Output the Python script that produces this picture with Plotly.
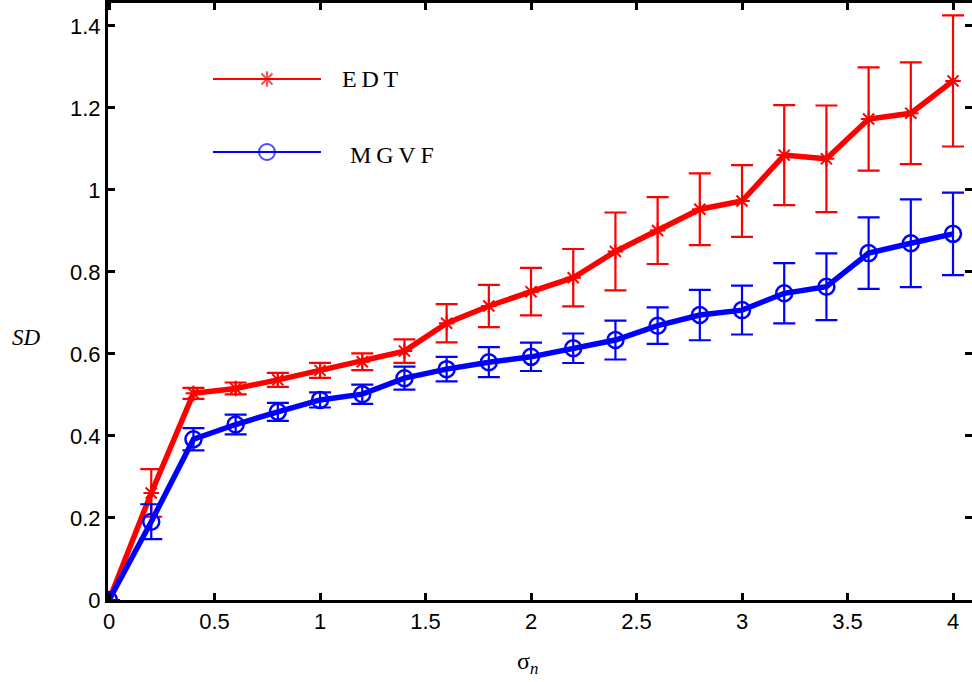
import plotly.graph_objects as go

# Noise level sigma_n
sigma_n = [0.0, 0.2, 0.4, 0.6, 0.8, 1.0, 1.2, 1.4, 1.6, 1.8, 2.0,
           2.2, 2.4, 2.6, 2.8, 3.0, 3.2, 3.4, 3.6, 3.8, 4.0]

# Mean SD and its spread for each method
edt_sd = [0.0, 0.261, 0.504, 0.516, 0.537, 0.560, 0.581, 0.607, 0.675, 0.717, 0.752,
          0.786, 0.850, 0.901, 0.953, 0.973, 1.085, 1.076, 1.173, 1.187, 1.266]
edt_err = [0.0, 0.058, 0.0135, 0.0145, 0.017, 0.0185, 0.0205, 0.0285, 0.0465, 0.0515, 0.058,
           0.070, 0.095, 0.0815, 0.0875, 0.0875, 0.122, 0.130, 0.126, 0.124, 0.160]

mgvf_sd = [0.0, 0.191, 0.392, 0.428, 0.459, 0.488, 0.502, 0.541, 0.563, 0.580, 0.593,
           0.614, 0.634, 0.669, 0.695, 0.707, 0.748, 0.764, 0.846, 0.870, 0.893]
mgvf_err = [0.0, 0.0425, 0.027, 0.024, 0.022, 0.0185, 0.0235, 0.028, 0.030, 0.0365, 0.0345,
            0.036, 0.0475, 0.0445, 0.0615, 0.0595, 0.0735, 0.0815, 0.087, 0.107, 0.1005]

x_ticks = [0, 0.5, 1, 1.5, 2, 2.5, 3, 3.5, 4]
x_tick_text = ["0", "0.5", "1", "1.5", "2", "2.5", "3", "3.5", "4"]
y_ticks = [0, 0.2, 0.4, 0.6, 0.8, 1.0, 1.2, 1.4]
y_tick_text = ["0", "0.2", "0.4", "0.6", "0.8", "1", "1.2", "1.4"]

RED = "#FF0000"
BLUE = "#0000FF"
X_RANGE = [-0.005, 4.09]
Y_RANGE = [0, 1.456]

fig = go.Figure()

fig.add_trace(go.Scatter(
    x=sigma_n, y=edt_sd, mode="lines+markers", name="EDT",
    line=dict(color=RED, width=5.5),
    marker=dict(symbol="asterisk-open", size=13, color=RED, line=dict(color=RED, width=2)),
    error_y=dict(type="data", array=edt_err, visible=True, color=RED, thickness=2.2, width=11),
    showlegend=False,
))
fig.add_trace(go.Scatter(
    x=sigma_n, y=mgvf_sd, mode="lines+markers", name="MGVF",
    line=dict(color=BLUE, width=5.5),
    marker=dict(symbol="circle-open", size=16, color=BLUE, line=dict(color=BLUE, width=2.5)),
    error_y=dict(type="data", array=mgvf_err, visible=True, color=BLUE, thickness=2.2, width=11),
    showlegend=False,
))

# Legend glyphs drawn on their own small axis
legend_y = {"EDT": 0.8727, "MGVF": 0.7504}
fig.add_trace(go.Scatter(
    x=[0, 0.5, 1], y=[legend_y["EDT"]] * 3, xaxis="x3", yaxis="y3",
    mode="lines+markers", line=dict(color=RED, width=2),
    marker=dict(symbol="asterisk-open", size=[0, 13, 0], color=RED, line=dict(color=RED, width=2)),
    showlegend=False, hoverinfo="skip",
))
fig.add_trace(go.Scatter(
    x=[0, 0.5, 1], y=[legend_y["MGVF"]] * 3, xaxis="x3", yaxis="y3",
    mode="lines+markers", line=dict(color=BLUE, width=2),
    marker=dict(symbol="circle-open", size=[0, 16, 0], color=BLUE, line=dict(color=BLUE, width=2)),
    showlegend=False, hoverinfo="skip",
))

tick_font = dict(family="Liberation Sans, Arial, sans-serif", size=22, color="black")
serif = "Liberation Serif, Times New Roman, serif"

fig.update_layout(
    width=972, height=682,
    margin=dict(l=108, r=0, t=3, b=82),
    paper_bgcolor="white", plot_bgcolor="rgba(0,0,0,0)",
    xaxis=dict(
        range=X_RANGE, tickvals=x_ticks, ticktext=x_tick_text,
        ticks="inside", ticklen=7, tickwidth=3, tickcolor="black",
        showline=True, linewidth=3, linecolor="black", mirror="ticks",
        showgrid=False, zeroline=False, tickfont=tick_font,
    ),
    yaxis=dict(
        range=Y_RANGE, tickvals=y_ticks, ticktext=y_tick_text,
        ticks="inside", ticklen=7, tickwidth=3, tickcolor="black",
        showline=True, linewidth=3, linecolor="black", mirror=False,
        showgrid=False, zeroline=False, tickfont=tick_font,
    ),
    yaxis2=dict(
        range=Y_RANGE, tickvals=y_ticks, overlaying="y", side="right",
        ticks="inside", ticklen=7, tickwidth=3, tickcolor="black",
        showticklabels=False, showline=False, showgrid=False, zeroline=False,
    ),
    xaxis3=dict(domain=[0.1215, 0.2465], range=[0, 1], visible=False, anchor="y3"),
    yaxis3=dict(domain=[0, 1], range=[0, 1], visible=False, anchor="x3"),
    annotations=[
        dict(text="E\u2009D\u2009T", xref="paper", yref="paper", x=0.2685, y=legend_y["EDT"],
             xanchor="left", yanchor="middle", showarrow=False,
             font=dict(family=serif, size=24, color="black")),
        dict(text="M\u2009G\u2009V\u2009F", xref="paper", yref="paper", x=0.2778, y=0.7454,
             xanchor="left", yanchor="middle", showarrow=False,
             font=dict(family=serif, size=24, color="black")),
        dict(text="<i>SD</i>", xref="paper", yref="paper", x=-0.094, y=0.4405,
             xanchor="center", yanchor="middle", showarrow=False,
             font=dict(family=serif, size=23, color="black")),
        dict(text="σ<sub><i>n</i></sub>", xref="paper", yref="paper", x=0.485, y=-0.105,
             xanchor="center", yanchor="middle", showarrow=False,
             font=dict(family=serif, size=24, color="black")),
    ],
)

# Keep the right-hand tick axis alive
fig.add_trace(go.Scatter(x=[None], y=[None], yaxis="y2", showlegend=False, hoverinfo="skip"))

fig.write_html("out.html")
